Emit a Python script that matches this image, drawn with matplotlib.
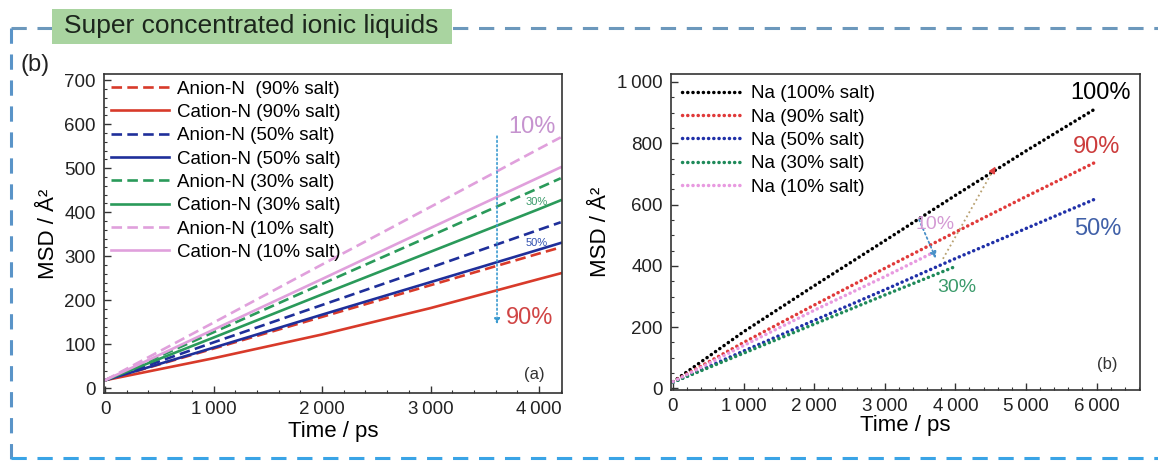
import matplotlib
matplotlib.use("Agg")
import matplotlib.pyplot as plt
from matplotlib.ticker import AutoMinorLocator, FuncFormatter, MultipleLocator
from matplotlib.lines import Line2D
from matplotlib.patches import Rectangle

plt.rcParams['font.family'] = ['Liberation Sans', 'DejaVu Sans']

# ---------------- data: left panel (ion-N MSD) ----------------
t_left = [0, 1000, 2000, 3000, 4000, 4200]
anion90 = [18, 90, 162, 234, 306, 320]
cation90 = [18, 68, 122, 182, 248, 261]
anion50 = [18, 104, 189, 274, 360, 377]
cation50 = [18, 92, 167, 241, 315, 330]
anion30 = [18, 127, 237, 346, 455, 477]
cation30 = [18, 115, 213, 310, 407, 427]
anion10 = [18, 149, 281, 412, 544, 570]
cation10 = [18, 133, 248, 364, 479, 502]
left_labels = ["Anion-N  (90% salt)", "Cation-N (90% salt)", "Anion-N (50% salt)",
               "Cation-N (50% salt)", "Anion-N (30% salt)", "Cation-N (30% salt)",
               "Anion-N (10% salt)", "Cation-N (10% salt)"]

# ---------------- data: right panel (Na MSD) ----------------
t_right = [0, 1000, 2000, 3000, 4000, 5000, 6000]
na100 = [22, 185, 335, 482, 630, 775, 915]
na90 = [22, 150, 272, 392, 510, 626, 740]
na50 = [20, 122, 222, 322, 424, 522, 620]
t30 = [0, 1000, 2000, 3000, 4000]
na30 = [20, 115, 210, 305, 398]
t10 = [0, 1000, 2000, 3000, 3700]
na10 = [22, 140, 255, 365, 445]
right_labels = ["Na (100% salt)", "Na (90% salt)", "Na (50% salt)", "Na (30% salt)", "Na (10% salt)"]

RED = '#d83a2a'
BLUE = '#1f2f9a'
GREEN = '#2a9a5a'
PINK = '#e0a0dc'

W, H = 1158, 461
fig = plt.figure(figsize=(W / 100, H / 100), dpi=100)

def fx(px):
    return px / W

def fy(py):
    return 1 - py / H

thin = '\u2009'
def fmt(v, pos):
    v = int(round(v))
    if v >= 1000:
        return f"{v // 1000}{thin}{v % 1000:03d}"
    return f"{v}"

# ---------------- frame decoration ----------------
frame_col = '#6c98bc'
fig.add_artist(Line2D([fx(11), fx(1158)], [fy(28), fy(28)], color=frame_col, lw=2.2,
                      linestyle=(0, (5, 3.5)), transform=fig.transFigure))
fig.add_artist(Line2D([fx(11), fx(11)], [fy(28), fy(461)], color='#5a94c8', lw=2.2,
                      linestyle=(0, (5, 3.5)), transform=fig.transFigure))
fig.add_artist(Line2D([fx(11), fx(1158)], [fy(458), fy(458)], color='#3aa4e6', lw=2.2,
                      linestyle=(0, (5, 3.5)), transform=fig.transFigure))
fig.add_artist(Rectangle((fx(52), fy(44)), fx(400), 35 / H, transform=fig.transFigure,
                         facecolor='#a9d4a0', edgecolor='none', zorder=5))
fig.text(fx(251), fy(26), "Super concentrated ionic liquids", fontsize=19, color='#1c261c',
         ha='center', va='center', zorder=6)
fig.text(fx(35), fy(65), "(b)", fontsize=17, color='#222222', ha='center', va='center')

# ---------------- left panel ----------------
ax1 = fig.add_axes([fx(104), fy(393), fx(562 - 104), (393 - 74) / H])
lw = 1.9
dash = (0, (4, 2))
series_left = [(anion90, RED, dash), (cation90, RED, '-'),
               (anion50, BLUE, dash), (cation50, BLUE, '-'),
               (anion30, GREEN, dash), (cation30, GREEN, '-'),
               (anion10, PINK, dash), (cation10, PINK, '-')]
for (vals, col, ls), lab in zip(series_left, left_labels):
    ax1.plot(t_left, vals, color=col, linestyle=ls, lw=lw, label=lab)

ax1.set_xlim(-10, 4212)
ax1.set_ylim(-11, 714)
ax1.xaxis.set_major_locator(MultipleLocator(1000))
ax1.xaxis.set_minor_locator(AutoMinorLocator(5))
ax1.yaxis.set_major_locator(MultipleLocator(100))
ax1.yaxis.set_minor_locator(AutoMinorLocator(5))
ax1.xaxis.set_major_formatter(FuncFormatter(fmt))
ax1.set_xlabel("Time / ps", fontsize=16, labelpad=2)
ax1.set_ylabel("MSD / Å²", fontsize=16, labelpad=4)

ax1.legend(loc='upper left', bbox_to_anchor=(0.0, 1.0), frameon=False, fontsize=13.5,
           handlelength=3.1, handletextpad=0.45, labelspacing=0.33, borderaxespad=0.15,
           borderpad=0.2)

ax1.annotate('', xy=(3613, 139), xytext=(3613, 579),
             arrowprops=dict(arrowstyle='-|>', color='#3a9ad0', lw=1.2, linestyle=':',
                             mutation_scale=8))
ax1.text(3935, 593, "10%", fontsize=17, color='#c693cf', ha='center', va='center')
ax1.text(3982, 423, "30%", fontsize=8, color='#3a9a6a', ha='center', va='center')
ax1.text(3982, 330, "50%", fontsize=8, color='#3050b0', ha='center', va='center')
ax1.text(3917, 159, "90%", fontsize=17, color='#d04545', ha='center', va='center')
ax1.text(3954, 30, "(a)", fontsize=12, color='#333333', ha='center', va='center')

# ---------------- right panel ----------------
ax2 = fig.add_axes([fx(671), fy(390), fx(1140 - 671), (390 - 74) / H])
dots = (0, (0.05, 1.45))
series_right = [(t_right, na100, 'black'), (t_right, na90, '#e03a3a'),
                (t_right, na50, '#2030a8'), (t30, na30, '#1f8a5a'),
                (t10, na10, '#e89ae0')]
for (tt, vals, col), lab in zip(series_right, right_labels):
    ax2.plot(tt, vals, color=col, linestyle=dots, lw=2.5, dash_capstyle='round', label=lab)

ax2.set_xlim(-28, 6615)
ax2.set_ylim(-5, 1026)
ax2.xaxis.set_major_locator(MultipleLocator(1000))
ax2.xaxis.set_minor_locator(AutoMinorLocator(5))
ax2.yaxis.set_major_locator(MultipleLocator(200))
ax2.yaxis.set_minor_locator(AutoMinorLocator(4))
ax2.xaxis.set_major_formatter(FuncFormatter(fmt))
ax2.yaxis.set_major_formatter(FuncFormatter(fmt))
ax2.set_xlabel("Time / ps", fontsize=16, labelpad=0)
ax2.set_ylabel("MSD / Å²", fontsize=16, labelpad=4)

ax2.legend(loc='upper left', bbox_to_anchor=(0.0, 1.0), frameon=False, fontsize=13.5,
           handlelength=3.2, handletextpad=0.45, labelspacing=0.33, borderaxespad=0.4,
           borderpad=0.2)

ax2.plot([3824, 4560], [423, 722], color='#b8a070', lw=1.3, linestyle=':')
ax2.annotate('', xy=(4589, 732), xytext=(4520, 705),
             arrowprops=dict(arrowstyle='-|>', color='#e04040', lw=1.2, mutation_scale=9))
ax2.annotate('', xy=(3739, 416), xytext=(3470, 559),
             arrowprops=dict(arrowstyle='-|>', color='#4a90c8', lw=1.3, linestyle=':',
                             mutation_scale=9))
ax2.text(6062, 964, "100%", fontsize=17, color='black', ha='center', va='center')
ax2.text(6006, 789, "90%", fontsize=17, color='#cc3c3c', ha='center', va='center')
ax2.text(6020, 519, "50%", fontsize=17, color='#4060a8', ha='center', va='center')
ax2.text(3711, 536, "10%", fontsize=14, color='#d49ad4', ha='center', va='center')
ax2.text(4023, 331, "30%", fontsize=14, color='#3a9a6a', ha='center', va='center')
ax2.text(6147, 78, "(b)", fontsize=12, color='#333333', ha='center', va='center')

for ax in (ax1, ax2):
    for sp in ax.spines.values():
        sp.set_linewidth(1.2)
        sp.set_color('#333333')
    ax.tick_params(which='both', direction='in', top=False, right=False, colors='#333333')
    ax.tick_params(which='major', length=5, width=1.0, labelsize=13.5, labelcolor='#222222', pad=6)
    ax.tick_params(which='minor', length=2.5, width=0.8)

fig.savefig("out.png", dpi=100)
